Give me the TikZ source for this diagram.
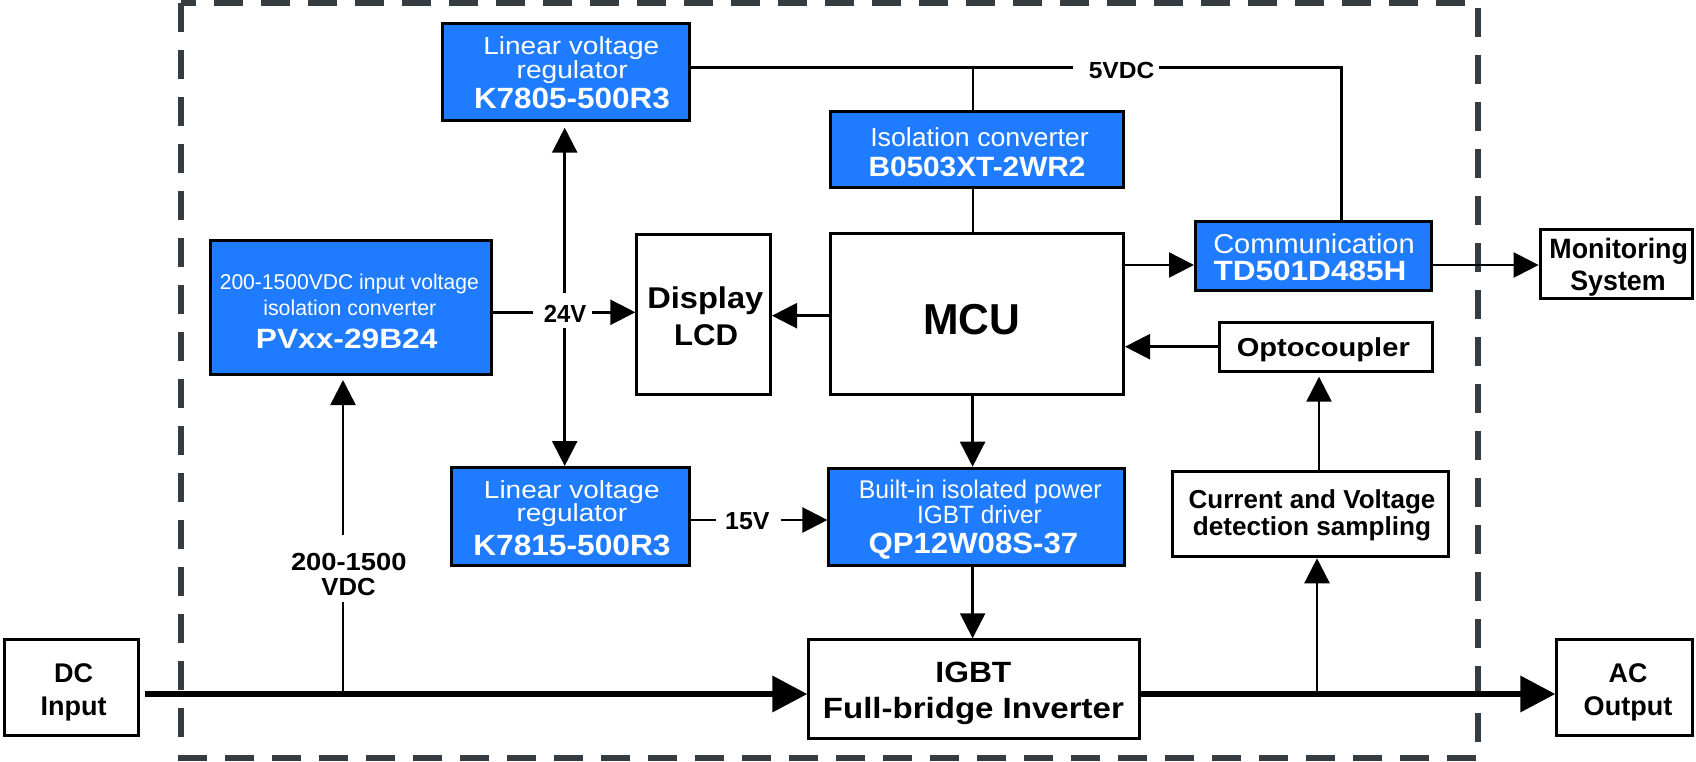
\documentclass[tikz,border=0pt]{standalone}
\usepackage{fontspec}
\setmainfont{Liberation Sans}
\usepackage{graphicx}
\usetikzlibrary{arrows.meta}
\definecolor{boxblue}{RGB}{31,123,255}
\definecolor{framegray}{RGB}{53,60,66}
\newcommand\fw[2]{\resizebox{#1pt}{\height}{#2}}
\newcommand\fsz[1]{\fontsize{#1pt}{#1pt}\selectfont}
\begin{document}
\begin{tikzpicture}[x=1pt,y=-1pt,
  box/.style={draw=black, line width=3pt, fill=white, inner sep=0pt},
  bbox/.style={box, fill=boxblue},
  wt/.style={text=white, inner sep=0pt, anchor=base},
  bt/.style={text=black, inner sep=0pt, anchor=base},
  conn/.style={line width=2.5pt, draw=black},
  arr/.style={conn, -{Triangle[length=25pt,width=25pt]}},
  thickarr/.style={line width=6.5pt, draw=black, -{Triangle[length=35pt,width=35pt]}},
  frame/.style={draw=framegray, line width=6pt, dash pattern=on 29pt off 18pt}
]
\useasboundingbox (0,0) rectangle (1696,762);
\fill[white] (0,0) rectangle (1696,762);
% dashed frame
\draw[frame] (181.3,3) rectangle (1478,758);

% boxes
\node[bbox, minimum width=247pt, minimum height=96.4pt] (k7805) at (565.7,72) {};
\node[bbox, minimum width=281.8pt, minimum height=133.4pt] (pv) at (350.9,307.5) {};
\node[bbox, minimum width=293pt, minimum height=76.3pt] (iso) at (977,149.65) {};
\node[box, minimum width=293pt, minimum height=161pt] (mcu) at (977,313.7) {};
\node[box, minimum width=133.7pt, minimum height=159.4pt] (disp) at (703.65,314.5) {};
\node[bbox, minimum width=235.5pt, minimum height=68.7pt] (com) at (1313.25,255.85) {};
\node[box, minimum width=152.4pt, minimum height=69pt] (mon) at (1616.3,264) {};
\node[box, minimum width=213pt, minimum height=49pt] (opto) at (1325.8,346.7) {};
\node[box, minimum width=275.9pt, minimum height=85.3pt] (cur) at (1310.85,514.15) {};
\node[bbox, minimum width=295.3pt, minimum height=97pt] (qp) at (976.55,516.7) {};
\node[bbox, minimum width=238.1pt, minimum height=97.7pt] (k7815) at (570.45,516.35) {};
\node[box, minimum width=330.6pt, minimum height=98.7pt] (igbt) at (974.2,689.15) {};
\node[box, minimum width=135.9pt, minimum height=96pt] (ac) at (1624.85,687.8) {};
\node[box, minimum width=134.1pt, minimum height=96pt] (dc) at (71.25,687.8) {};

% box texts
\node[wt, font=\fsz{24.7}] (k7805a) at (571.3,55) {\fw{176}{Linear voltage}};
\node[wt, font=\fsz{24.7}] (k7805b) at (572.2,79) {\fw{111}{regulator}};
\node[wt, font=\fsz{29.3}\bfseries] (k7805c) at (572,108.3) {\fw{196}{K7805-500R3}};

\node[wt, font=\fsz{21.4}] (pva) at (349.3,289.3) {\fw{259}{200-1500VDC input voltage}};
\node[wt, font=\fsz{21.4}] (pvb) at (349.8,315) {\fw{173}{isolation converter}};
\node[wt, font=\fsz{27.9}\bfseries] (pvc) at (346.7,348.3) {\fw{181.5}{PVxx-29B24}};

\node[wt, font=\fsz{26.1}] (isoa) at (979.5,146.7) {\fw{218.5}{Isolation converter}};
\node[wt, font=\fsz{27.9}\bfseries] (isob) at (977,176.7) {\fw{217}{B0503XT-2WR2}};

\node[wt, font=\fsz{27.3}] (coma) at (1314,253.3) {\fw{201.4}{Communication}};
\node[wt, font=\fsz{27.9}\bfseries] (comb) at (1310,280) {\fw{193}{TD501D485H}};

\node[wt, font=\fsz{25.6}] (qpa) at (980.3,498.3) {\fw{242.8}{Built-in isolated power}};
\node[wt, font=\fsz{25}] (qpb) at (979.4,523.3) {\fw{124.6}{IGBT driver}};
\node[wt, font=\fsz{29.3}\bfseries] (qpc) at (973.4,553.3) {\fw{209.7}{QP12W08S-37}};

\node[wt, font=\fsz{24.7}] (k7815a) at (571.8,498.8) {\fw{175.6}{Linear voltage}};
\node[wt, font=\fsz{24.7}] (k7815b) at (571.8,521.7) {\fw{110.6}{regulator}};
\node[wt, font=\fsz{29.3}\bfseries] (k7815c) at (571.9,555.5) {\fw{197.3}{K7815-500R3}};

\node[bt, font=\fsz{30}\bfseries] (dispa) at (705.3,308.3) {\fw{116}{Display}};
\node[bt, font=\fsz{30}\bfseries] (dispb) at (706,345) {\fw{64}{LCD}};
\node[bt, font=\fsz{43.3}\bfseries] (mcut) at (971.5,334) {\fw{97}{MCU}};
\node[bt, font=\fsz{28}\bfseries] (mona) at (1618.7,258.5) {\fw{138.5}{Monitoring}};
\node[bt, font=\fsz{28}\bfseries] (monb) at (1618,290) {\fw{95.3}{System}};
\node[bt, font=\fsz{26}\bfseries] (optot) at (1323.3,356.7) {\fw{173}{Optocoupler}};
\node[bt, font=\fsz{26}\bfseries] (cura) at (1312,508.5) {\fw{246.8}{Current and Voltage}};
\node[bt, font=\fsz{26}\bfseries] (curb) at (1312,535.5) {\fw{238.4}{detection sampling}};
\node[bt, font=\fsz{29.3}\bfseries] (igbta) at (973.4,682.7) {\fw{76}{IGBT}};
\node[bt, font=\fsz{29.3}\bfseries] (igbtb) at (973.4,718.5) {\fw{301}{Full-bridge Inverter}};
\node[bt, font=\fsz{27}\bfseries] (aca) at (1628,682.7) {\fw{38.8}{AC}};
\node[bt, font=\fsz{27}\bfseries] (acb) at (1628,715) {\fw{88.6}{Output}};
\node[bt, font=\fsz{27}\bfseries] (dca) at (73.7,682.7) {\fw{39}{DC}};
\node[bt, font=\fsz{27}\bfseries] (dcb) at (73.7,715) {\fw{66}{Input}};

% connector labels
\node[bt, font=\fsz{24.7}\bfseries] (l24) at (565,322.7) {\fw{42.4}{24V}};
\node[bt, font=\fsz{23.3}\bfseries] (l5) at (1121.5,78.3) {\fw{65.5}{5VDC}};
\node[bt, font=\fsz{24.6}\bfseries] (l15) at (747.4,529.3) {\fw{44.4}{15V}};
\node[bt, font=\fsz{24.7}\bfseries] (l200a) at (348.8,570) {\fw{115.5}{200-1500}};
\node[bt, font=\fsz{24.7}\bfseries] (l200b) at (348.5,595) {\fw{54.2}{VDC}};

% coordinates
\coordinate (yThick) at (0,694);
\coordinate (jPV) at (343,694);
\coordinate (jCur) at (1317,694);
\coordinate (y24) at (0,312.3);
\coordinate (x24) at (564.7,0);
\coordinate (c5a) at (973.2,67.7);
\coordinate (c5b) at (1341.7,67.7);
\coordinate (yCom) at (0,265);
\coordinate (yDisp) at (0,315.7);
\coordinate (xMcu) at (972.6,0);
\coordinate (y15) at (0,520);
\coordinate (xOpt) at (1319,0);

% main power path
\draw[thickarr, shorten <=5pt] (dc.east |- yThick) -- (igbt.west |- yThick);
\draw[thickarr] (igbt.east |- yThick) -- (ac.west |- yThick);

% 200-1500VDC branch
\draw[conn, shorten >=6.7pt] (jPV) -- (l200b.south -| jPV);
\draw[arr, shorten <=17.3pt, shorten >=4.3pt] (l200a.north -| jPV) -- (pv.south -| jPV);

% 24V
\draw[conn, shorten >=10.5pt] (pv.east |- y24) -- (l24.west |- y24);
\draw[arr, shorten <=5.5pt] (l24.east |- y24) -- (disp.west |- y24);
\draw[arr, shorten <=12pt, shorten >=6pt] (l24.north -| x24) -- (k7805.south -| x24);
\draw[arr, shorten <=5.3pt] (l24.south -| x24) -- (k7815.north -| x24);

% 5VDC
\draw[conn, shorten >=15.2pt] (k7805.east |- c5a) -- (l5.west |- c5a);
\draw[conn, shorten <=4.4pt] (l5.east |- c5a) -- (c5b) -- (com.north -| c5b);
\draw[conn] (c5a) -- (iso.north -| c5a);
\draw[conn] (iso.south -| c5a) -- (mcu.north -| c5a);

% MCU links
\draw[arr] (mcu.west |- yDisp) -- (disp.east |- yDisp);
\draw[arr] (mcu.east |- yCom) -- (com.west |- yCom);
\draw[arr] (com.east |- yCom) -- (mon.west |- yCom);
\draw[arr] (opto.west) -- (mcu.east |- opto.west);
\draw[arr, shorten >=4pt] (cur.north -| xOpt) -- (opto.south -| xOpt);
\draw[arr] (jCur) -- (cur.south -| jCur);
\draw[arr] (mcu.south -| xMcu) -- (qp.north -| xMcu);
\draw[arr] (qp.south -| xMcu) -- (igbt.north -| xMcu);

% 15V
\draw[conn, shorten >=8.7pt] (k7815.east |- y15) -- (l15.west |- y15);
\draw[arr, shorten <=10.9pt] (l15.east |- y15) -- (qp.west |- y15);
\end{tikzpicture}
\end{document}
